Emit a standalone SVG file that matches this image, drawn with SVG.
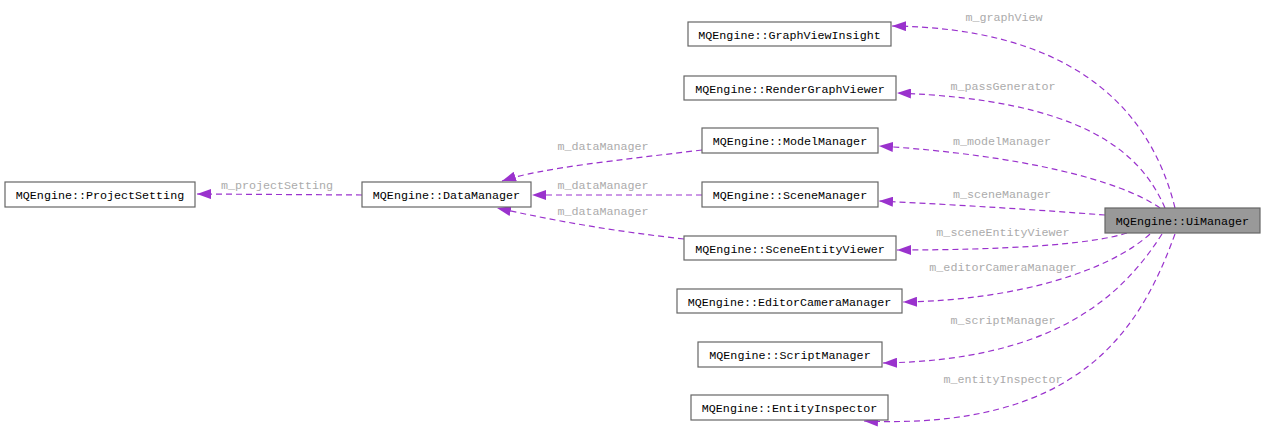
<svg xmlns="http://www.w3.org/2000/svg" width="1265" height="431" viewBox="0 0 1265 431">
<style>
.box{fill:#fff;stroke:#666;stroke-width:1.2}
.hl{fill:#999;stroke:#666;stroke-width:1.2}
.nt{font-family:"Liberation Mono",monospace;font-size:11.7px;fill:#000;text-anchor:middle}
.lb{font-family:"Liberation Mono",monospace;font-size:11.7px;fill:#ababab;text-anchor:middle}
.e{fill:none;stroke:#9a32cd;stroke-width:1.2;stroke-dasharray:6,4;marker-end:url(#ah)}
</style>
<defs>
<marker id="ah" viewBox="0 0 14 10" refX="14" refY="5" markerWidth="14" markerHeight="10" markerUnits="userSpaceOnUse" orient="auto">
<path d="M0,0 L14,5 L0,10 z" fill="#9a32cd"/>
</marker>
</defs>
<rect width="1265" height="431" fill="#fff"/>
<g id="connectors">
<path class="e" d="M1175,208 C1148,98 1060,28 892,26"/>
<path class="e" d="M1165,208 C1140,150 1080,100 897,93"/>
<path class="e" d="M1160,208 C1120,180 1020,155 879,146"/>
<path class="e" d="M1105,215 C1040,210 960,205 879,201"/>
<path class="e" d="M1127,233 C1090,245 1000,250 897,250"/>
<path class="e" d="M1150,234 C1110,270 1020,300 903,302"/>
<path class="e" d="M1162,234 C1120,300 1050,360 883,363"/>
<path class="e" d="M1175,234 C1140,330 1080,430 864,421"/>
<path class="e" d="M702,150 C620,160 540,168 502,181"/>
<path class="e" d="M702,195 L532,195"/>
<path class="e" d="M684,239 C620,232 560,222 497,208"/>
<path class="e" d="M362,195 L197,194"/>
<text class="lb" x="1004" y="21">m_graphView</text>
<text class="lb" x="1003" y="90">m_passGenerator</text>
<text class="lb" x="1002" y="145">m_modelManager</text>
<text class="lb" x="1002" y="198">m_sceneManager</text>
<text class="lb" x="1003" y="236">m_sceneEntityViewer</text>
<text class="lb" x="1003" y="271">m_editorCameraManager</text>
<text class="lb" x="1003" y="324">m_scriptManager</text>
<text class="lb" x="1003" y="383">m_entityInspector</text>
<text class="lb" x="603" y="150">m_dataManager</text>
<text class="lb" x="603" y="189">m_dataManager</text>
<text class="lb" x="603" y="215">m_dataManager</text>
<text class="lb" x="277" y="189">m_projectSetting</text>
</g>
<g id="UiManager"><rect class="hl" x="1105" y="208" width="155" height="25"/><text class="nt" x="1182.5" y="225">MQEngine::UiManager</text></g>
<g id="GraphViewInsight"><rect class="box" x="688" y="22" width="203" height="24"/><text class="nt" x="789.5" y="39">MQEngine::GraphViewInsight</text></g>
<g id="RenderGraphViewer"><rect class="box" x="684" y="76" width="212" height="24"/><text class="nt" x="790" y="93">MQEngine::RenderGraphViewer</text></g>
<g id="ModelManager"><rect class="box" x="702" y="128" width="176" height="25"/><text class="nt" x="790" y="145">MQEngine::ModelManager</text></g>
<g id="SceneManager"><rect class="box" x="702" y="182" width="176" height="25"/><text class="nt" x="790" y="199">MQEngine::SceneManager</text></g>
<g id="SceneEntityViewer"><rect class="box" x="684" y="236" width="212" height="24"/><text class="nt" x="790" y="253">MQEngine::SceneEntityViewer</text></g>
<g id="EditorCameraManager"><rect class="box" x="677" y="289" width="225" height="24"/><text class="nt" x="789.5" y="306">MQEngine::EditorCameraManager</text></g>
<g id="ScriptManager"><rect class="box" x="698" y="342" width="184" height="25"/><text class="nt" x="790" y="359">MQEngine::ScriptManager</text></g>
<g id="EntityInspector"><rect class="box" x="691" y="395" width="197" height="25"/><text class="nt" x="789.5" y="412">MQEngine::EntityInspector</text></g>
<g id="DataManager"><rect class="box" x="362" y="182" width="169" height="25"/><text class="nt" x="446.5" y="199">MQEngine::DataManager</text></g>
<g id="ProjectSetting"><rect class="box" x="5" y="182" width="190" height="25"/><text class="nt" x="100" y="199">MQEngine::ProjectSetting</text></g>
</svg>
